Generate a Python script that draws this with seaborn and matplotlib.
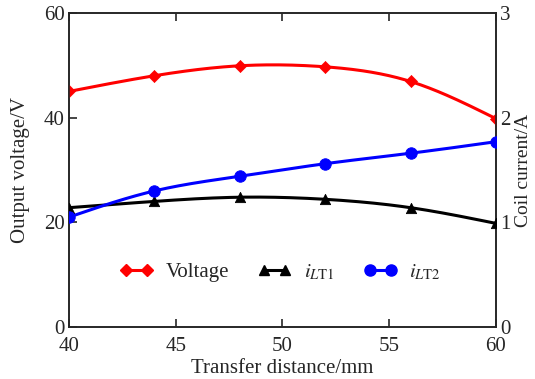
import numpy as np
import pandas as pd
import matplotlib
matplotlib.use("Agg")
import matplotlib.pyplot as plt
from matplotlib.lines import Line2D
import seaborn as sns

distance = [40, 44, 48, 52, 56, 60]
voltage = [45.0, 48.0, 49.9, 49.7, 46.9, 39.8]
i_lt1 = [1.14, 1.20, 1.24, 1.22, 1.14, 0.99]
i_lt2 = [1.05, 1.30, 1.44, 1.56, 1.66, 1.77]

x_ticks = [40, 45, 50, 55, 60]
y_left_ticks = [0, 20, 40, 60]
y_right_ticks = [0, 1, 2, 3]


def smooth(x, y, n=200):
    # natural cubic spline through the data points (for drawing only)
    x = np.asarray(x, float); y = np.asarray(y, float)
    k = len(x)
    h = np.diff(x)
    A = np.zeros((k, k)); b = np.zeros(k)
    A[0, 0] = A[-1, -1] = 1
    for i in range(1, k - 1):
        A[i, i - 1] = h[i - 1]; A[i, i] = 2 * (h[i - 1] + h[i]); A[i, i + 1] = h[i]
        b[i] = 3 * ((y[i + 1] - y[i]) / h[i] - (y[i] - y[i - 1]) / h[i - 1])
    c = np.linalg.solve(A, b)
    xs = np.linspace(x[0], x[-1], n)
    ys = np.empty_like(xs)
    for j, xv in enumerate(xs):
        i = min(np.searchsorted(x, xv, side="right") - 1, k - 2)
        dx = xv - x[i]
        bb = (y[i + 1] - y[i]) / h[i] - h[i] * (2 * c[i] + c[i + 1]) / 3
        d = (c[i + 1] - c[i]) / (3 * h[i])
        ys[j] = y[i] + bb * dx + c[i] * dx ** 2 + d * dx ** 3
    return xs, ys


sns.set_style("ticks")
plt.rcParams["font.family"] = ["Liberation Serif", "DejaVu Serif"]
plt.rcParams["mathtext.fontset"] = "stix"
FS = 15

fig = plt.figure(figsize=(5.35, 3.79), dpi=100)
ax = fig.add_axes([0.129, 0.137, 0.798, 0.829])
ax2 = ax.twinx()

red, black, blue = "#ff0000", "#000000", "#0000ff"

xs, ys = smooth(distance, voltage)
sns.lineplot(x=xs, y=ys, ax=ax, color=red, lw=2.2, sort=False)
sns.scatterplot(x=distance, y=voltage, ax=ax, marker="D", color=red, s=38, edgecolor=red, zorder=5)

xs, ys = smooth(distance, i_lt1)
sns.lineplot(x=xs, y=ys, ax=ax2, color=black, lw=2.2, sort=False)
sns.scatterplot(x=distance, y=i_lt1, ax=ax2, marker="^", color=black, s=55, edgecolor=black, zorder=5)

xs, ys = smooth(distance, i_lt2)
sns.lineplot(x=xs, y=ys, ax=ax2, color=blue, lw=2.2, sort=False)
sns.scatterplot(x=distance, y=i_lt2, ax=ax2, marker="o", color=blue, s=68, edgecolor=blue, zorder=5)

for a in (ax, ax2):
    a.set_xlim(40, 60)
    for s in a.spines.values():
        s.set_linewidth(1.2)
        s.set_visible(True)
ax.set_ylim(0, 60)
ax2.set_ylim(0, 3)
ax.set_xticks(x_ticks)
ax.set_yticks(y_left_ticks)
ax2.set_yticks(y_right_ticks)
ax.tick_params(axis="x", direction="in", top=True, bottom=True, length=6, width=1.2, labelsize=FS, pad=7)
ax.tick_params(axis="y", direction="in", length=6, width=1.2, labelsize=FS, pad=3)
ax2.tick_params(axis="y", direction="in", length=0, width=1.2, labelsize=FS, pad=3)

ax.set_xlabel("Transfer distance/mm", fontsize=FS, labelpad=2)
ax.set_ylabel("Output voltage/V", fontsize=FS, labelpad=10)
ax2.set_ylabel("Coil current/A", fontsize=14, labelpad=3)

handles = [
    Line2D([], [], color=red, lw=2.2, marker="D", ms=6),
    Line2D([], [], color=black, lw=2.2, marker="^", ms=7),
    Line2D([], [], color=blue, lw=2.2, marker="o", ms=8),
]
labels = ["Voltage", r"$i_{L\mathrm{T1}}$", r"$i_{L\mathrm{T2}}$"]
ax.legend(handles, labels, loc="center", bbox_to_anchor=(0.495, 0.175), ncol=3, frameon=False,
          fontsize=FS, numpoints=2, handlelength=1.6, columnspacing=1.4, handletextpad=0.6)

fig.savefig("out.png", dpi=100)
